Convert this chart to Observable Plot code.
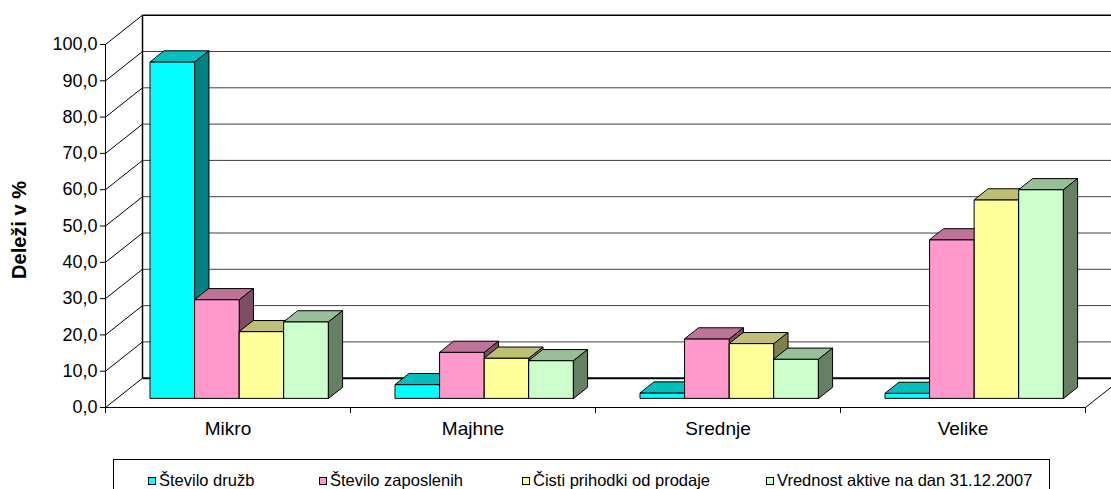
<!DOCTYPE html>
<html>
<head>
<meta charset="utf-8">
<script src="https://cdn.jsdelivr.net/npm/d3@7"></script>
<script src="https://cdn.jsdelivr.net/npm/@observablehq/plot@0.6"></script>
<style>
  html, body { margin: 0; padding: 0; background: #fff; overflow: hidden; }
  #wrap { position: relative; width: 1111px; height: 489px; font-family: "Liberation Sans", Arial, sans-serif; }
  #legend { position: absolute; left: 113px; top: 459px; width: 937px; height: 40px; border: 1px solid #000; box-sizing: border-box; background: #fff; }
  .li { position: absolute; top: 11px; font-size: 16.5px; line-height: 18px; white-space: nowrap; color: #000; }
  .sw { display: inline-block; width: 6px; height: 6px; border: 1px solid #000; margin-right: 3px; vertical-align: 1px; }
</style>
</head>
<body>
<div id="wrap"><div id="chart"></div><div id="legend"></div></div>
<script>
// ---- data ----
const categories = ["Mikro", "Majhne", "Srednje", "Velike"];
const seriesNames = ["Število družb", "Število zaposlenih", "Čisti prihodki od prodaje", "Vrednost aktive na dan 31.12.2007"];
const steviloDruzb = [92.7, 3.8, 1.5, 1.4];
const steviloZaposlenih = [27.2, 12.7, 16.4, 43.7];
const cistiPrihodki = [18.4, 11.1, 15.1, 54.7];
const vrednostAktive = [21.1, 10.4, 10.8, 57.5];
const yTicks = [0, 10, 20, 30, 40, 50, 60, 70, 80, 90, 100];
const axisTitle = "Deleži v %";

// ---- styles / layout ----
const seriesColors = ["#00FFFF", "#FF99CC", "#FFFF99", "#CCFFCC"];
const legendLeft = [147, 318, 521, 765];
const W = 1111, H = 459, mL = 105, mR = 26, mT = 44, mB = 52;
const kx = (W - mL - mR) / categories.length;   // px per category
const ky = (H - mT - mB) / 100;                  // px per percent
const DEPTH_X = 37, DEPTH_Y = 29.3;              // oblique wall depth in px
const DXu = DEPTH_X / kx, DYu = DEPTH_Y / ky;
const bw = 1 / 5.5;                              // bar width (gap width 150%)
const d0 = 0.311, d1 = 0.689;                    // bar front/back depth

const values = [steviloDruzb, steviloZaposlenih, cistiPrihodki, vrednostAktive];

function shade(c, f) {
  const r = d3.rgb(c);
  return d3.rgb(Math.round(r.r * f), Math.round(r.g * f), Math.round(r.b * f)).formatHex();
}
const faceKeys = [], faceColors = [];
seriesNames.forEach((s, j) => {
  faceKeys.push(s + "|front", s + "|top", s + "|side");
  faceColors.push(seriesColors[j], shade(seriesColors[j], 0.75), shade(seriesColors[j], 0.5));
});

const P = (x, y, d) => ({x: x + d * DXu, y: y + d * DYu});
const polys = [];
let id = 0;
categories.forEach((c, i) => {
  seriesNames.forEach((s, j) => {
    const v = values[j][i];
    const xl = i + 0.75 * bw + j * bw, xr = xl + bw;
    const faces = {
      front: [P(xl, 0, d0), P(xr, 0, d0), P(xr, v, d0), P(xl, v, d0)],
      top: [P(xl, v, d0), P(xr, v, d0), P(xr, v, d1), P(xl, v, d1)],
      side: [P(xr, 0, d0), P(xr, 0, d1), P(xr, v, d1), P(xr, v, d0)]
    };
    for (const f of ["front", "top", "side"]) {
      id++;
      for (const p of faces[f]) polys.push({id, key: s + "|" + f, x: p.x, y: p.y});
    }
  });
});

const fmt = d => d.toFixed(1).replace(".", ",");
const gridVals = yTicks.filter(d => d > 0 && d < 100);

const chart = Plot.plot({
  width: W, height: H,
  marginLeft: mL, marginRight: mR, marginTop: mT, marginBottom: mB,
  style: {fontFamily: "'Liberation Sans', Arial, sans-serif", fontSize: "18px", background: "#fff", color: "#000", overflow: "hidden"},
  x: {domain: [0, categories.length], axis: null},
  y: {domain: [0, 100], ticks: yTicks.length - 1, tickFormat: fmt, tickSize: 5, tickPadding: 3, label: null},
  color: {type: "ordinal", domain: faceKeys, range: faceColors},
  marks: [
    // back wall gridlines
    Plot.link(gridVals, {x1: DXu, x2: categories.length + DXu, y1: d => d + DYu, y2: d => d + DYu, stroke: "#404040", strokeWidth: 1}),
    Plot.link([100], {x1: DXu, x2: categories.length + DXu, y1: d => d + DYu, y2: d => d + DYu, stroke: "#000", strokeWidth: 1.5}),
    Plot.link([0], {x1: DXu, x2: categories.length + DXu, y1: d => d + DYu, y2: d => d + DYu, stroke: "#000", strokeWidth: 2}),
    // left wall
    Plot.link(yTicks, {x1: 0, y1: d => d, x2: DXu, y2: d => d + DYu, stroke: "#000", strokeWidth: 1}),
    Plot.link([0], {x1: DXu, x2: DXu, y1: DYu, y2: 100 + DYu, stroke: "#000", strokeWidth: 1.5}),
    // floor right edge
    Plot.link([categories.length], {x1: d => d, y1: 0, x2: d => d + DXu, y2: DYu, stroke: "#000", strokeWidth: 1}),
    // front axes
    Plot.ruleY([0], {stroke: "#000", strokeWidth: 1}),
    Plot.ruleX([0], {y1: 0, y2: 100, stroke: "#000", strokeWidth: 1}),
    Plot.ruleX(d3.range(categories.length + 1), {y1: 0, y2: -6 / ky, stroke: "#000", strokeWidth: 1}),
    // 3D bars
    Plot.line(polys, {x: "x", y: "y", z: "id", fill: "key", stroke: "#000", strokeWidth: 1, curve: "linear-closed", strokeLinejoin: "miter"}),
    // category labels
    Plot.text(categories, {x: (d, i) => i + 0.5, y: 0, dy: 21, text: d => d, fontSize: 19, fill: "#000"}),
    // axis title
    Plot.text([axisTitle], {frameAnchor: "left", textAnchor: "middle", rotate: -90, dx: -86, dy: 4, text: d => d, fontSize: 20, fontWeight: "bold", fill: "#000"})
  ]
});
document.getElementById("chart").appendChild(chart);

// legend
const legend = document.getElementById("legend");
seriesNames.forEach((s, j) => {
  const el = document.createElement("div");
  el.className = "li";
  el.style.left = (legendLeft[j] - 113) + "px";
  const sw = document.createElement("span");
  sw.className = "sw";
  sw.style.background = seriesColors[j];
  el.appendChild(sw);
  el.appendChild(document.createTextNode(s));
  legend.appendChild(el);
});
</script>
</body>
</html>
